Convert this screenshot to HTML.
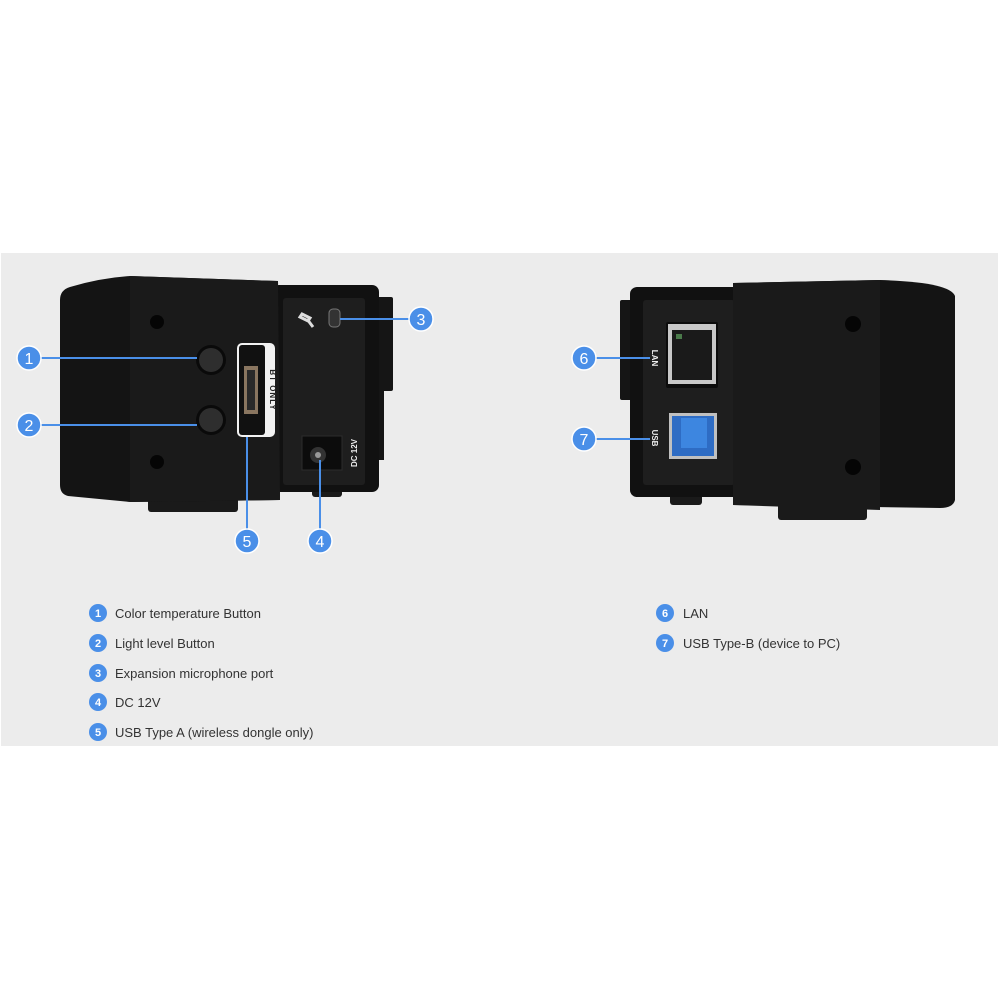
<!DOCTYPE html>
<html><head><meta charset="utf-8"><style>
html,body{margin:0;padding:0;background:#fff;width:1000px;height:1000px;overflow:hidden}
svg{display:block}
</style></head><body>
<svg width="1000" height="1000" viewBox="0 0 1000 1000" xmlns="http://www.w3.org/2000/svg" font-family="Liberation Sans, sans-serif">
<rect x="0" y="0" width="1000" height="1000" fill="#fff"/>
<rect x="1" y="253" width="997" height="493" fill="#ececec"/>
<!-- LEFT DEVICE -->
<rect x="148" y="494" width="90" height="18" rx="3" fill="#1a1a1a"/>
<rect x="312" y="484" width="30" height="13" rx="3" fill="#1a1a1a"/>
<rect x="376" y="297" width="17" height="94" rx="2" fill="#151515"/>
<rect x="372" y="380" width="12" height="80" fill="#151515"/>
<rect x="272" y="285" width="107" height="207" rx="7" fill="#111"/>
<rect x="283" y="298" width="82" height="187" rx="3" fill="#1e1e1e"/>
<path d="M70 287 Q100 278 130 276 L278 281 L280 500 L130 502 L68 496 Q60 494 60 485 L60 300 Q60 290 70 287 Z" fill="#141414"/>
<path d="M130 276 L278 281 L280 500 L130 502 Z" fill="#1a1a1a"/>
<circle cx="157" cy="322" r="7" fill="#050505"/>
<circle cx="157" cy="462" r="7" fill="#050505"/>
<circle cx="211" cy="360" r="15" fill="#0a0a0a"/><circle cx="211" cy="360" r="12" fill="#2e2e2e"/>
<circle cx="211" cy="420" r="15" fill="#0a0a0a"/><circle cx="211" cy="420" r="12" fill="#2e2e2e"/>
<rect x="237" y="343" width="38" height="94" rx="5" fill="#f2f2f2"/>
<rect x="239" y="345" width="26" height="90" rx="3" fill="#111"/>
<rect x="244" y="366" width="14" height="48" fill="#8a7660"/>
<rect x="247" y="370" width="8" height="40" fill="#2a2a2a"/>
<text x="0" y="0" transform="translate(270,390) rotate(90)" text-anchor="middle" font-size="8" font-weight="bold" fill="#222" letter-spacing="1">BT ONLY</text>
<path d="M302 314 l8 4 l-2 3 l-8 -4z M307 319 l6 8" stroke="#ddd" stroke-width="3" fill="none"/>
<rect x="329" y="309" width="11" height="18" rx="4" fill="#333" stroke="#777" stroke-width="1"/>
<rect x="302" y="436" width="40" height="34" fill="#0c0c0c" stroke="#2c2c2c"/>
<circle cx="318" cy="455" r="8" fill="#333"/><circle cx="318" cy="455" r="3" fill="#999"/>
<text x="0" y="0" transform="translate(357,453) rotate(-90)" text-anchor="middle" font-size="8" font-weight="bold" fill="#eee">DC 12V</text>
<!-- RIGHT DEVICE -->
<rect x="778" y="500" width="89" height="20" rx="3" fill="#1a1a1a"/>
<rect x="670" y="492" width="32" height="13" rx="3" fill="#1a1a1a"/>
<rect x="620" y="300" width="12" height="100" rx="2" fill="#151515"/>
<rect x="630" y="287" width="110" height="210" rx="7" fill="#111"/>
<rect x="643" y="300" width="92" height="185" rx="3" fill="#1e1e1e"/>
<path d="M733 283 L880 280 Q950 282 955 296 L955 500 Q953 508 940 508 L733 505 Z" fill="#141414"/>
<path d="M733 283 L880 280 L880 510 L733 505 Z" fill="#1a1a1a"/>
<circle cx="853" cy="324" r="8" fill="#050505"/>
<circle cx="853" cy="467" r="8" fill="#050505"/>
<rect x="666" y="322" width="52" height="66" rx="2" fill="#0c0c0c"/>
<rect x="668" y="324" width="48" height="60" fill="#c8c8c8"/>
<rect x="672" y="330" width="40" height="50" fill="#1a1a1a"/>
<rect x="676" y="334" width="6" height="5" fill="#4a7a4a"/>
<rect x="669" y="413" width="48" height="46" fill="#c0c0c0"/>
<rect x="672" y="416" width="42" height="40" fill="#2e6cc4"/>
<rect x="681" y="418" width="26" height="30" fill="#3d86e0"/>
<text x="0" y="0" transform="translate(652,358) rotate(90)" text-anchor="middle" font-size="8" font-weight="bold" fill="#eee">LAN</text>
<text x="0" y="0" transform="translate(652,438) rotate(90)" text-anchor="middle" font-size="8" font-weight="bold" fill="#eee">USB</text>
<!-- CALLOUT LINES -->
<g stroke="#4a8fe8" stroke-width="2" fill="none">
<line x1="29" y1="358" x2="197" y2="358"/>
<line x1="29" y1="425" x2="197" y2="425"/>
<line x1="340" y1="319" x2="421" y2="319"/>
<line x1="320" y1="460" x2="320" y2="541"/>
<line x1="247" y1="437" x2="247" y2="541"/>
<line x1="584" y1="358" x2="650" y2="358"/>
<line x1="584" y1="439" x2="650" y2="439"/>
</g>
<g fill="#4a8fe8" stroke="#fff" stroke-width="1.5">
<circle cx="29" cy="358" r="12"/><circle cx="29" cy="425" r="12"/>
<circle cx="421" cy="319" r="12"/><circle cx="320" cy="541" r="12"/>
<circle cx="247" cy="541" r="12"/><circle cx="584" cy="358" r="12"/>
<circle cx="584" cy="439" r="12"/>
</g>
<g fill="#fff" font-size="16" text-anchor="middle">
<text x="29" y="364">1</text><text x="29" y="431">2</text><text x="421" y="325">3</text>
<text x="320" y="547">4</text><text x="247" y="547">5</text><text x="584" y="364">6</text><text x="584" y="445">7</text>
</g>
<!-- LEGEND -->
<g fill="#4a8fe8">
<circle cx="98" cy="613" r="9"/><circle cx="98" cy="643" r="9"/><circle cx="98" cy="673" r="9"/>
<circle cx="98" cy="702" r="9"/><circle cx="98" cy="732" r="9"/>
<circle cx="665" cy="613" r="9"/><circle cx="665" cy="643" r="9"/>
</g>
<g fill="#fff" font-size="11" font-weight="bold" text-anchor="middle">
<text x="98" y="617">1</text><text x="98" y="647">2</text><text x="98" y="677">3</text>
<text x="98" y="706">4</text><text x="98" y="736">5</text>
<text x="665" y="617">6</text><text x="665" y="647">7</text>
</g>
<g fill="#333" font-size="13">
<text x="115" y="618">Color temperature Button</text>
<text x="115" y="648">Light level Button</text>
<text x="115" y="678">Expansion microphone port</text>
<text x="115" y="707">DC 12V</text>
<text x="115" y="737">USB Type A (wireless dongle only)</text>
<text x="683" y="618">LAN</text>
<text x="683" y="648">USB Type-B (device to PC)</text>
</g>
</svg>
</body></html>
